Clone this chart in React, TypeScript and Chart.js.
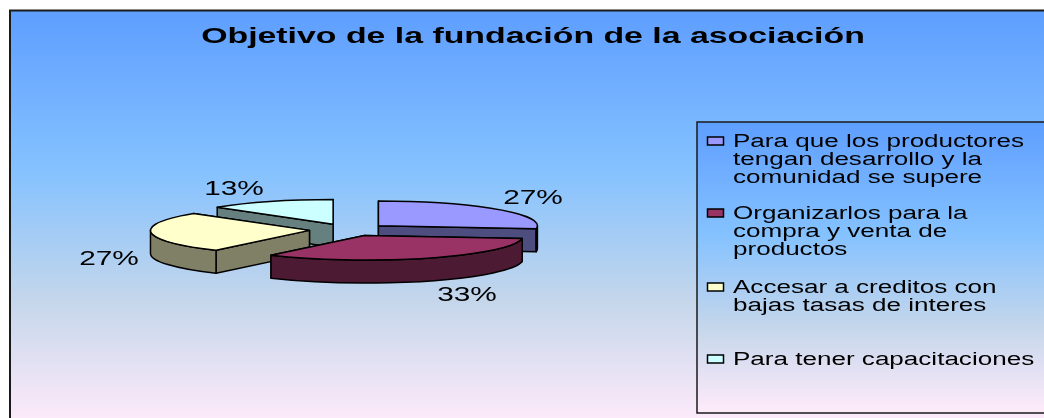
import React, { useEffect, useRef } from "react";
import { Chart, registerables } from "chart.js";

Chart.register(...registerables);

const titleText = "Objetivo de la fundación de la asociación";
const categories = [
  ["Para que los productores", "tengan desarrollo y la", "comunidad se supere"],
  ["Organizarlos para la", "compra y venta de", "productos"],
  ["Accesar a creditos con", "bajas tasas de interes"],
  ["Para tener capacitaciones"],
];
const shares = [27, 33, 27, 13];
const topColors = ["#9999FF", "#993366", "#FFFFCC", "#CCFFFF"];
const sideColors = ["#4D4D80", "#4D1A33", "#808066", "#668080"];

const W = 1044;
const H = 418;
const CX = 348.8;
const CY = 229.8;
const RADIUS = 159;
const TILT = 0.155;
const DEPTH = 23;
const EXPLODE = 39.5;
const FONT = '"Liberation Sans", Arial, sans-serif';
const LABEL_POS = [
  [533, 198],
  [467, 295],
  [109, 259],
  [234, 189],
];
const LEGEND_BOX = { x: 697, y: 122, r: 1050, b: 413 };
const LEGEND_ROW_Y = [142, 214, 288, 360];
const LEGEND_LINE = 18;

function dayGradient(ctx: CanvasRenderingContext2D, y0: number, y1: number) {
  const g = ctx.createLinearGradient(0, y0, 0, y1);
  g.addColorStop(0, "#5E9EFF");
  g.addColorStop(0.39, "#85C2FF");
  g.addColorStop(0.7, "#C4D6EB");
  g.addColorStop(1, "#FFEBFA");
  return g;
}

function stretchedText(
  ctx: CanvasRenderingContext2D,
  text: string,
  x: number,
  y: number,
  font: string,
  sx: number,
  align: "left" | "center"
) {
  ctx.save();
  ctx.font = font;
  ctx.fillStyle = "#000";
  ctx.textBaseline = "middle";
  ctx.textAlign = align;
  ctx.translate(x, y);
  ctx.scale(sx, 1);
  ctx.fillText(text, 0, 0);
  ctx.restore();
}

const backgroundPlugin = {
  id: "officeBackground",
  beforeDraw(chart: any) {
    const ctx = chart.ctx;
    ctx.save();
    ctx.fillStyle = dayGradient(ctx, 10, 424);
    ctx.fillRect(10, 10, W, H);
    ctx.strokeStyle = "#1a1a1a";
    ctx.lineWidth = 2;
    ctx.strokeRect(10, 10.5, W + 20, H + 20);
    ctx.restore();
  },
};

const pie3dPlugin = {
  id: "pie3d",
  beforeDatasetsDraw(chart: any) {
    const ctx: CanvasRenderingContext2D = chart.ctx;
    const arcs = chart.getDatasetMeta(0).data;
    const items = arcs.map((arc: any, i: number) => {
      const mid = (arc.startAngle + arc.endAngle) / 2;
      const ax = arc.x + EXPLODE * Math.cos(mid);
      const ay = arc.y + EXPLODE * Math.sin(mid) * TILT;
      return { arc, i, ax, ay, key: Math.sin(mid) };
    });
    items.sort((a: any, b: any) => a.key - b.key);

    for (const { arc, i, ax, ay } of items) {
      const r = arc.outerRadius;
      const px = (a: number) => ax + r * Math.cos(a);
      const py = (a: number) => ay + r * TILT * Math.sin(a);
      ctx.save();
      ctx.lineWidth = 1.5;
      ctx.lineJoin = "round";
      ctx.strokeStyle = "#000";
      ctx.fillStyle = sideColors[i];

      const edges = [arc.startAngle, arc.endAngle].sort((p, q) => Math.sin(p) - Math.sin(q));
      for (const a of edges) {
        ctx.beginPath();
        ctx.moveTo(ax, ay);
        ctx.lineTo(px(a), py(a));
        ctx.lineTo(px(a), py(a) + DEPTH);
        ctx.lineTo(ax, ay + DEPTH);
        ctx.closePath();
        ctx.fill();
        ctx.stroke();
      }

      const from = Math.max(arc.startAngle, 0);
      const to = Math.min(arc.endAngle, Math.PI);
      if (to > from) {
        ctx.beginPath();
        ctx.ellipse(ax, ay, r, r * TILT, 0, from, to);
        ctx.lineTo(px(to), py(to) + DEPTH);
        ctx.ellipse(ax, ay + DEPTH, r, r * TILT, 0, to, from, true);
        ctx.closePath();
        ctx.fill();
        ctx.stroke();
      }

      ctx.save();
      ctx.translate(ax, ay);
      ctx.scale(1, TILT);
      ctx.translate(-arc.x, -arc.y);
      arc.draw(ctx);
      ctx.restore();

      ctx.beginPath();
      ctx.moveTo(ax, ay);
      ctx.ellipse(ax, ay, r, r * TILT, 0, arc.startAngle, arc.endAngle);
      ctx.closePath();
      ctx.stroke();
      ctx.restore();
    }
    return false;
  },
};

const textPlugin = {
  id: "officeText",
  afterDraw(chart: any) {
    const ctx: CanvasRenderingContext2D = chart.ctx;
    const title = chart.options.plugins.title.text;
    stretchedText(ctx, title, 533, 37, `bold 22px ${FONT}`, 1.538, "center");

    shares.forEach((v, i) => {
      const [x, y] = LABEL_POS[i];
      stretchedText(ctx, `${v}%`, x, y, `21px ${FONT}`, 1.42, "center");
    });

    const b = LEGEND_BOX;
    ctx.save();
    ctx.fillStyle = dayGradient(ctx, b.y, b.b);
    ctx.fillRect(b.x, b.y, b.r - b.x, b.b - b.y);
    ctx.strokeStyle = "#1a1a1a";
    ctx.lineWidth = 1.5;
    ctx.strokeRect(b.x, b.y, b.r - b.x, b.b - b.y);
    ctx.restore();

    chart.data.labels.forEach((lines: string[], i: number) => {
      const y0 = LEGEND_ROW_Y[i];
      ctx.save();
      ctx.fillStyle = topColors[i];
      ctx.strokeStyle = "#000";
      ctx.lineWidth = 1.5;
      ctx.fillRect(707.5, y0 - 5, 16, 8);
      ctx.strokeRect(707.5, y0 - 5, 16, 8);
      ctx.restore();
      lines.forEach((line, j) => {
        stretchedText(ctx, line, 733, y0 + j * LEGEND_LINE, `18px ${FONT}`, 1.447, "left");
      });
    });
  },
};

export default function App() {
  const ref = useRef<HTMLCanvasElement>(null);
  useEffect(() => {
    const chart = new Chart(ref.current as HTMLCanvasElement, {
      type: "pie",
      data: {
        labels: categories,
        datasets: [
          {
            data: shares,
            backgroundColor: topColors,
            borderWidth: 0,
          },
        ],
      },
      options: {
        animation: false,
        responsive: false,
        layout: {
          padding: {
            left: CX - RADIUS,
            right: W - CX - RADIUS,
            top: CY - RADIUS,
            bottom: H - CY - RADIUS,
          },
        },
        plugins: {
          legend: { display: false },
          tooltip: { enabled: false },
          title: { display: false, text: titleText },
        },
      },
      plugins: [backgroundPlugin, pie3dPlugin, textPlugin],
    } as any);
    return () => chart.destroy();
  }, []);
  return (
    <div style={{ position: "absolute", left: 0, top: 0, width: W, height: H, overflow: "hidden", background: "#fff" }}>
      <canvas ref={ref} width={W} height={H} style={{ display: "block" }} />
    </div>
  );
}
